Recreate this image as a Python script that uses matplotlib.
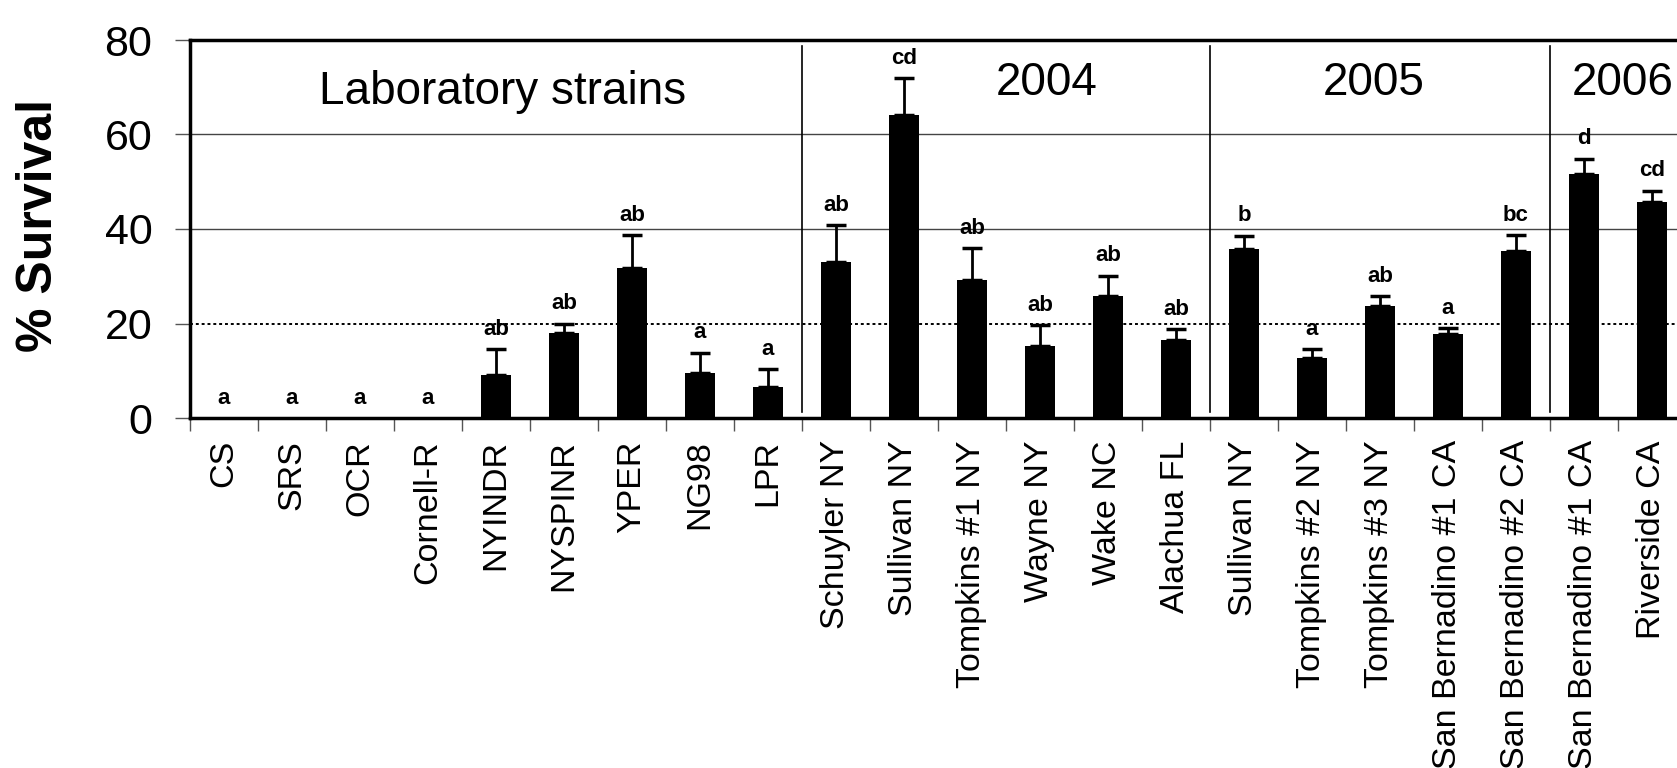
import numpy as np
import matplotlib
matplotlib.use('Agg')
import matplotlib.pyplot as plt

plt.rcParams['font.family'] = ['Liberation Sans', 'DejaVu Sans']

strains = ['CS', 'SRS', 'OCR', 'Cornell-R', 'NYINDR', 'NYSPINR', 'YPER', 'NG98', 'LPR',
           'Schuyler NY', 'Sullivan NY', 'Tompkins #1 NY', 'Wayne NY', 'Wake NC', 'Alachua FL',
           'Sullivan NY', 'Tompkins #2 NY', 'Tompkins #3 NY', 'San Bernadino #1 CA', 'San Bernadino #2 CA',
           'San Bernadino #1 CA', 'Riverside CA']
survival = [0, 0, 0, 0, 9.0, 17.9, 31.7, 9.5, 6.5,
            33.1, 64.1, 29.2, 15.3, 25.8, 16.5,
            35.7, 12.6, 23.6, 17.7, 35.4,
            51.6, 45.8]
sem = [0, 0, 0, 0, 5.6, 2.1, 7.0, 4.3, 3.9,
       7.7, 7.8, 6.7, 4.4, 4.3, 2.3,
       2.9, 1.9, 2.2, 1.3, 3.3,
       3.3, 2.3]
letters = ['a', 'a', 'a', 'a', 'ab', 'ab', 'ab', 'a', 'a',
           'ab', 'cd', 'ab', 'ab', 'ab', 'ab',
           'b', 'a', 'ab', 'a', 'bc',
           'd', 'cd']
groups = ['Laboratory strains', '2004', '2005', '2006']
group_sizes = [9, 6, 5, 2]

x = np.arange(len(strains))
survival = np.array(survival)
sem = np.array(sem)

fig = plt.figure(figsize=(16.77, 7.68), dpi=100)
ax = fig.add_axes([190/1677, 350/768, 1496/1677, 378/768])

ax.bar(x, survival, width=0.45, color='black', zorder=3)
has_err = sem > 0
ax.errorbar(x[has_err], survival[has_err], yerr=[np.zeros(has_err.sum()), sem[has_err]],
            fmt='none', ecolor='black', elinewidth=2, capsize=7, capthick=2.5, zorder=3)

for xi, top, lab in zip(x, survival + sem, letters):
    ax.text(xi, top + 4.2, lab, ha='center', va='center', fontsize=16, fontweight='bold')

ax.set_xlim(-0.5, len(strains) - 0.5)
ax.set_ylim(0, 80)
ax.set_yticks([0, 20, 40, 60, 80])
ax.tick_params(axis='y', labelsize=31, length=11, width=1, color='#555555', pad=16)

ax.axhline(20, color='black', lw=1.4, ls=(0, (1.5, 1.5)), zorder=1)
for g in [40, 60]:
    ax.axhline(g, color='#444444', lw=1, zorder=1)

ax.set_xticks(x)
ax.set_xticklabels(strains, rotation=90, fontsize=24.5, va='top', ha='center')
ax.tick_params(axis='x', length=0, pad=16)
ax.set_xticks(np.arange(-0.5, len(strains), 1), minor=True)
ax.tick_params(axis='x', which='minor', length=9, width=1, color='#555555')

for s in ['left', 'bottom']:
    ax.spines[s].set_linewidth(2.5)
ax.spines['top'].set_linewidth(2.5)
ax.spines['right'].set_visible(False)

# group dividers and headings
edges = np.cumsum(group_sizes) - 0.5
for e in edges[:-1]:
    ax.axvline(e, ymin=0.015, ymax=0.985, color='black', lw=1.2, zorder=2)
ax.text(4.1, 66.5, groups[0], ha='center', va='baseline', fontsize=33)
ax.text(12.1, 68.4, groups[1], ha='center', va='baseline', fontsize=33)
ax.text(16.9, 68.4, groups[2], ha='center', va='baseline', fontsize=33)
ax.text(20.57, 68.4, groups[3], ha='center', va='baseline', fontsize=33)

fig.text(39/1677, 1 - 226/768, '% Survival', rotation=90, ha='center', va='center',
         fontsize=36, fontweight='bold')

fig.savefig('out.png', dpi=100)
